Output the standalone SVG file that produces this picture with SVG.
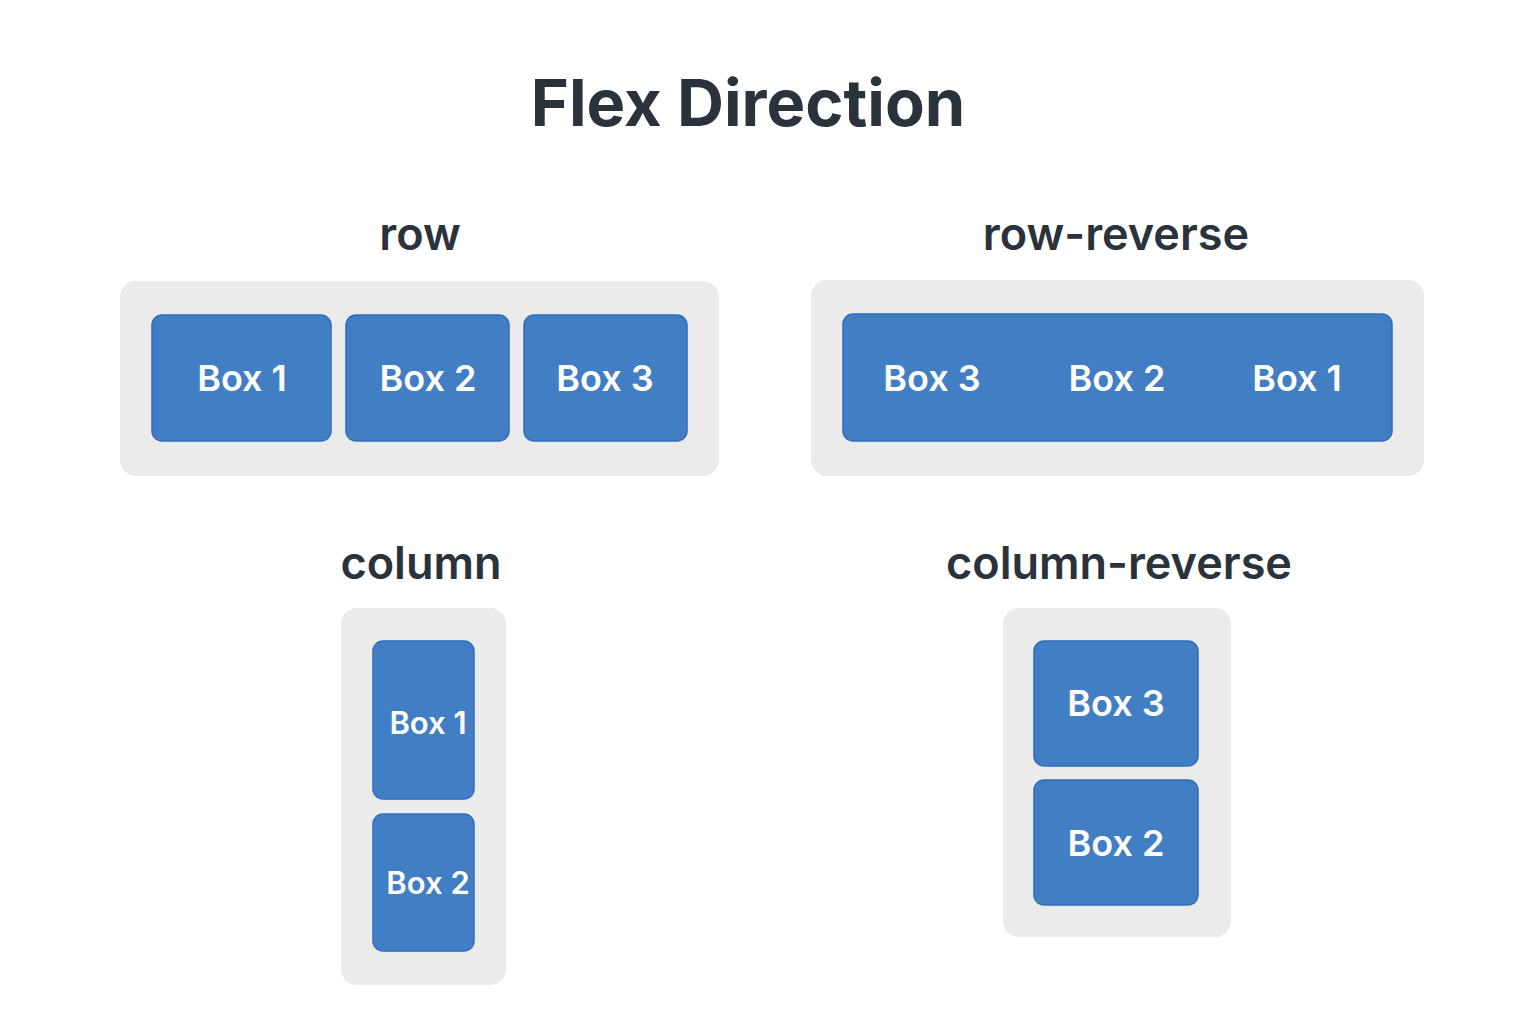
<svg xmlns="http://www.w3.org/2000/svg" width="1536" height="1024" viewBox="0 0 1536 1024">
<style>
.title{font-family:Inter,"Noto Sans","Liberation Sans",sans-serif;font-weight:700;font-size:65px;fill:#2a323c;text-anchor:middle}
.label{font-family:Inter,"Noto Sans","Liberation Sans",sans-serif;font-weight:600;font-size:45px;fill:#2a323c;text-anchor:middle}
.cont{fill:#ebebeb}
.box{fill:#427ec4;stroke:#2f6dbd;stroke-width:1.5}
.bt{font-family:Inter,"Noto Sans","Liberation Sans",sans-serif;font-weight:600;font-size:36px;fill:#ffffff;text-anchor:middle}
.bts{font-size:31px}
</style>
<rect width="1536" height="1024" fill="#ffffff"/>
<text id="title" class="title" x="748" y="126">Flex Direction</text>

<g id="row">
<text class="label" x="420" y="250">row</text>
<rect class="cont" x="120" y="281" width="599" height="195" rx="16"/>
<g id="row-box1"><rect class="box" x="152" y="315" width="179" height="126" rx="10"/><text class="bt" x="242" y="391">Box 1</text></g>
<g id="row-box2"><rect class="box" x="346" y="315" width="163" height="126" rx="10"/><text class="bt" x="428" y="391">Box 2</text></g>
<g id="row-box3"><rect class="box" x="524" y="315" width="163" height="126" rx="10"/><text class="bt" x="605" y="391">Box 3</text></g>
</g>

<g id="row-reverse">
<text class="label" x="1116" y="250">row-reverse</text>
<rect class="cont" x="811" y="280" width="613" height="196" rx="16"/>
<g id="rr-boxes"><rect class="box" x="843" y="314" width="549" height="127" rx="10"/>
<text class="bt" x="932" y="391">Box 3</text>
<text class="bt" x="1117" y="391">Box 2</text>
<text class="bt" x="1297" y="391">Box 1</text></g>
</g>

<g id="column">
<text class="label" x="421" y="579">column</text>
<rect class="cont" x="341" y="608" width="165" height="377" rx="16"/>
<g id="col-box1"><rect class="box" x="373" y="641" width="101" height="158" rx="10"/><text class="bt bts" x="428" y="734">Box 1</text></g>
<g id="col-box2"><rect class="box" x="373" y="814" width="101" height="137" rx="10"/><text class="bt bts" x="428" y="894">Box 2</text></g>
</g>

<g id="column-reverse">
<text class="label" x="1119" y="579">column-reverse</text>
<rect class="cont" x="1003" y="608" width="228" height="329" rx="16"/>
<g id="cr-box3"><rect class="box" x="1034" y="641" width="164" height="125" rx="10"/><text class="bt" x="1116" y="716">Box 3</text></g>
<g id="cr-box2"><rect class="box" x="1034" y="780" width="164" height="125" rx="10"/><text class="bt" x="1116" y="856">Box 2</text></g>
</g>
</svg>
